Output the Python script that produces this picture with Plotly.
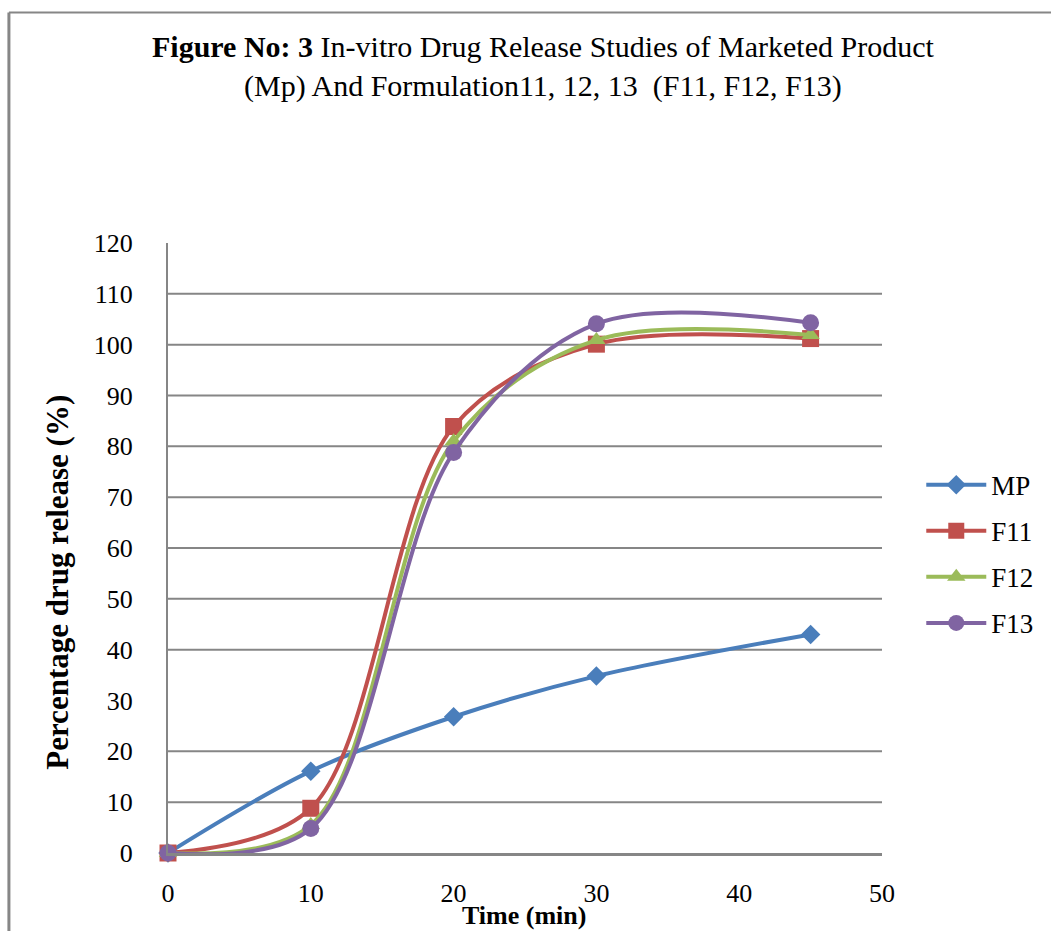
import plotly.graph_objects as go

time_min = [0, 10, 20, 30, 45]
mp = [0, 16.1, 26.8, 34.8, 43.0]
f11 = [0, 8.8, 83.9, 100.1, 101.2]
f12 = [0, 5.5, 81.0, 100.9, 101.9]
f13 = [0, 4.8, 78.8, 104.1, 104.3]

series_names = ["MP", "F11", "F12", "F13"]
series_values = [mp, f11, f12, f13]
colors = ["#4A7EBB", "#C0504D", "#9BBB59", "#8064A2"]
symbols = ["diamond", "square", "triangle-up", "circle"]
marker_sizes = [15, 17, 16, 17]

y_ticks = list(range(0, 121, 10))
x_ticks = list(range(0, 51, 10))
grid_values = [10, 20, 40, 50, 60, 70, 80, 90, 100, 110]

GRAY = "#868686"
SERIF = "Liberation Serif, Times New Roman, serif"

fig = go.Figure()
for name, vals, c, s, ms in zip(series_names, series_values, colors, symbols, marker_sizes):
    fig.add_trace(go.Scatter(
        x=time_min, y=vals, name=name, mode="lines+markers",
        line=dict(color=c, width=4, shape="spline", smoothing=0.95),
        marker=dict(color=c, symbol=s, size=ms, line=dict(width=0)),
        cliponaxis=False, legendgroup=name,
    ))

shapes = []
for g in grid_values:
    shapes.append(dict(type="line", xref="paper", yref="y", x0=0, x1=1, y0=g, y1=g,
                       line=dict(color=GRAY, width=2), layer="below"))
# outer chart border (left and top edges visible)
shapes.append(dict(type="line", xref="paper", yref="paper", x0=-0.2228, x1=-0.2228,
                   y0=-0.2, y1=1.378, line=dict(color=GRAY, width=3)))
shapes.append(dict(type="line", xref="paper", yref="paper", x0=-0.2228, x1=1.3,
                   y0=1.378, y1=1.378, line=dict(color=GRAY, width=2)))

annotations = [
    dict(text="<b>Figure No: 3</b> In-vitro Drug Release Studies of Marketed Product<br>"
              "(Mp) And Formulation11, 12, 13  (F11, F12, F13)",
         xref="paper", yref="paper", x=0.525, y=1.29, xanchor="center", yanchor="middle",
         showarrow=False, font=dict(family=SERIF, size=30, color="black"), align="center"),
    dict(text="<b>Percentage drug release (%)</b>", xref="paper", yref="paper",
         x=-0.1546, y=0.444, textangle=-90, xanchor="center", yanchor="middle",
         showarrow=False, font=dict(family=SERIF, size=31, color="black")),
    dict(text="<b>Time (min)</b>", xref="paper", yref="paper",
         x=0.4986, y=-0.102, xanchor="center", yanchor="middle",
         showarrow=False, font=dict(family=SERIF, size=26, color="black")),
]

fig.update_layout(
    width=1051, height=931,
    margin=dict(l=168, r=165, t=243, b=78),
    paper_bgcolor="white", plot_bgcolor="white",
    shapes=shapes, annotations=annotations,
    showlegend=True,
    legend=dict(x=1.055, y=0.49, xanchor="left", yanchor="middle",
                font=dict(family=SERIF, size=27, color="black"),
                traceorder="grouped", tracegroupgap=8, itemwidth=60,
                bgcolor="rgba(0,0,0,0)"),
    xaxis=dict(range=[0, 50], tickvals=x_ticks, showgrid=False, zeroline=False,
               showline=True, linecolor=GRAY, linewidth=3, ticks="",
               ticklabelstandoff=15,
               tickfont=dict(family=SERIF, size=26, color="black")),
    yaxis=dict(range=[0, 120], tickvals=y_ticks, showgrid=False, zeroline=False,
               showline=True, linecolor=GRAY, linewidth=2, ticks="",
               ticklabelstandoff=28,
               tickfont=dict(family=SERIF, size=26, color="black")),
)

fig.write_html("out.html")
